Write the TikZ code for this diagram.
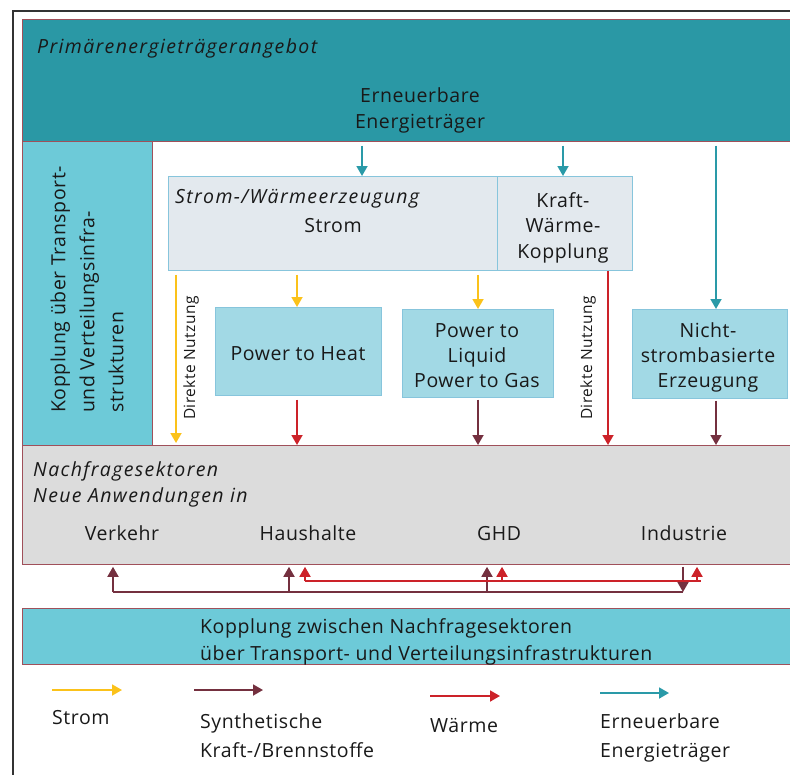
\documentclass[tikz,border=0pt]{standalone}
\usepackage{fontspec}
\setmainfont{Open Sans}[LetterSpace=3]
\usetikzlibrary{arrows.meta}
\definecolor{tealdark}{HTML}{2A98A5}
\definecolor{tealmid}{HTML}{6DCAD8}
\definecolor{powerfill}{HTML}{A2D9E5}
\definecolor{palefill}{HTML}{E3E9EE}
\definecolor{paleborder}{HTML}{87C5DC}
\definecolor{grayfill}{HTML}{DCDCDC}
\definecolor{frameborder}{HTML}{A0505A}
\definecolor{yellowc}{HTML}{FBC21A}
\definecolor{maroonc}{HTML}{74303F}
\definecolor{redc}{HTML}{CC2229}
\definecolor{tealarrow}{HTML}{2A9AA8}
\newcommand{\bigtxt}{\fontsize{19.5}{26}\selectfont}
\newcommand{\smalltxt}{\fontsize{15.5}{18}\selectfont}
\newcommand{\headtxt}{\fontsize{19.5}{27}\selectfont\itshape\addfontfeatures{LetterSpace=7}}
\begin{document}
\begin{tikzpicture}[x=1pt,y=-1pt,
  bigbox/.style={draw=frameborder, line width=0.8pt, anchor=north west, inner sep=0pt},
  innerbox/.style={draw=paleborder, line width=0.8pt, anchor=north west, inner sep=0pt},
  txt/.style={inner sep=0pt, font=\bigtxt, text=black!90},
  arrbase/.style={line width=1.8pt, -{Triangle[length=10pt,width=11pt]}},
  arrY/.style={arrbase, draw=yellowc, fill=yellowc},
  arrM/.style={arrbase, draw=maroonc, fill=maroonc},
  arrR/.style={arrbase, draw=redc, fill=redc},
  arrT/.style={arrbase, draw=tealarrow, fill=tealarrow},
  lineM/.style={line width=1.8pt, draw=maroonc},
  lineR/.style={line width=1.8pt, draw=redc}]
\useasboundingbox (0,0) rectangle (790,774);
% outer frame
\draw[line width=1.2pt, black!80] (13,780) -- (13,11) -- (800,11);
% boxes
\node[bigbox, fill=tealdark, minimum width=773pt, minimum height=122pt] (top) at (22,19) {};
\node[bigbox, fill=tealmid, minimum width=130pt, minimum height=304pt] (left) at (22,141) {};
\node[innerbox, fill=palefill, minimum width=329pt, minimum height=94pt] (strom) at (168,176) {};
\node[innerbox, fill=palefill, minimum width=135pt, minimum height=94pt] (kwk) at (497,176) {};
\node[innerbox, fill=powerfill, minimum width=166pt, minimum height=88pt] (pth) at (215,307) {};
\node[innerbox, fill=powerfill, minimum width=151pt, minimum height=88pt] (ptl) at (402,309) {};
\node[innerbox, fill=powerfill, minimum width=155pt, minimum height=89pt] (nicht) at (632,309) {};
\node[bigbox, fill=grayfill, minimum width=773pt, minimum height=119pt] (nach) at (22,445) {};
\node[bigbox, fill=tealmid, minimum width=773pt, minimum height=56pt] (kopp) at (22,608) {};
% texts (anchor base = baseline of the last line)
\node[txt, anchor=base west] (tprim) at (37,53) {\headtxt Primärenergieträgerangebot};
\node[txt, align=center, anchor=base] (tern) at (420,128) {Erneuerbare\\Energieträger};
\node[txt, rotate=90, align=left, anchor=west, font=\fontsize{19.5}{29}\selectfont] (tleft) at (87,413) {Kopplung über Transport-\\und Verteilungsinfra-\\strukturen};
\node[txt, anchor=base west] (tsw) at (175,203) {\headtxt Strom-/Wärmeerzeugung};
\node[txt, anchor=base] (tstrom) at (333,232) {Strom};
\node[txt, align=center, anchor=base, font=\fontsize{19.5}{25.5}\selectfont] (tkwk) at (563,258) {Kraft-\\Wärme-\\Kopplung};
\node[txt, anchor=base] (tpth) at (298,360) {Power to Heat};
\node[txt, align=center, anchor=base, font=\fontsize{19.5}{25}\selectfont] (tptl) at (477,387) {Power to\\Liquid\\Power to Gas};
\node[txt, align=center, anchor=base, font=\fontsize{19.5}{25}\selectfont] (tnicht) at (708,387) {Nicht-\\strombasierte\\Erzeugung};
\node[txt, anchor=base west, align=left] (tnach) at (33,502) {\headtxt Nachfragesektoren\\\headtxt Neue Anwendungen in};
\node[txt, anchor=base] (tverk) at (122,540) {Verkehr};
\node[txt, anchor=base] (thaus) at (308,540) {Haushalte};
\node[txt, anchor=base] (tghd) at (499,540) {GHD};
\node[txt, anchor=base] (tind) at (684,540) {Industrie};
\node[txt, anchor=base west, align=left, font=\fontsize{19.5}{27}\selectfont] (tkopp) at (200,660) {Kopplung zwischen Nachfragesektoren\\über Transport- und Verteilungsinfrastrukturen};
\node[txt, font=\smalltxt, rotate=90] (tdn1) at (191,358) {Direkte Nutzung};
\node[txt, font=\smalltxt, rotate=90] (tdn2) at (588,358) {Direkte Nutzung};
% x-position helpers
\coordinate (xa) at (362,0);
\coordinate (xb) at (563,0);
\coordinate (xc) at (716,0);
\coordinate (xd) at (176,0);
\coordinate (xe) at (297,0);
\coordinate (xf) at (478,0);
\coordinate (xg) at (608,0);
% teal arrows
\draw[arrT, shorten <=4pt] (xa |- top.south) -- (xa |- strom.north);
\draw[arrT, shorten <=4pt] (xb |- top.south) -- (xb |- kwk.north);
\draw[arrT, shorten <=4pt] (xc |- top.south) -- (xc |- nicht.north);
% yellow arrows
\draw[arrY, shorten <=4pt, shorten >=2pt] (xd |- strom.south) -- (xd |- nach.north);
\draw[arrY, shorten <=4pt] (xe |- strom.south) -- (xe |- pth.north);
\draw[arrY, shorten <=4pt] (xf |- strom.south) -- (xf |- ptl.north);
% red / maroon arrows into Nachfrage
\draw[arrR] (xg |- kwk.south) -- (xg |- nach.north);
\draw[arrR, shorten <=4pt] (xe |- pth.south) -- (xe |- nach.north);
\draw[arrM, shorten <=2pt] (xf |- ptl.south) -- (xf |- nach.north);
\draw[arrM, shorten <=2pt] (xc |- nicht.south) -- (xc |- nach.north);
% bottom exchange between sectors
\coordinate (ym) at (0,592);
\coordinate (yr) at (0,581);
\coordinate (m1) at (113,0);
\coordinate (m2) at (289,0);
\coordinate (m3) at (487,0);
\coordinate (m4) at (683,0);
\coordinate (r1) at (305,0);
\coordinate (r2) at (502,0);
\coordinate (r3) at (697,0);
\coordinate (rend) at (701,0);
\draw[arrM, shorten <=2pt] (m4 |- nach.south) -- (m4 |- ym);
\draw[lineM] (m4 |- ym) -- (m1 |- ym);
\draw[arrM, shorten >=2pt] (m1 |- ym) -- (m1 |- nach.south);
\draw[arrM, shorten >=2pt] (m2 |- ym) -- (m2 |- nach.south);
\draw[arrM, shorten >=2pt] (m3 |- ym) -- (m3 |- nach.south);
\draw[lineR] (r1 |- yr) -- (rend |- yr);
\draw[arrR, shorten >=2pt] (r1 |- yr) -- (r1 |- nach.south);
\draw[arrR, shorten >=2pt] (r2 |- yr) -- (r2 |- nach.south);
\draw[arrR, shorten >=2pt] (r3 |- yr) -- (r3 |- nach.south);
% legend
\coordinate (l1a) at (52,690);  \coordinate (l1b) at (122,690);
\coordinate (l2a) at (194,690); \coordinate (l2b) at (263,690);
\coordinate (l3a) at (430,696); \coordinate (l3b) at (500,696);
\coordinate (l4a) at (600,693); \coordinate (l4b) at (669,693);
\draw[arrY] (l1a) -- (l1b);
\draw[arrM] (l2a) -- (l2b);
\draw[arrR] (l3a) -- (l3b);
\draw[arrT] (l4a) -- (l4b);
\node[txt, anchor=base west] (lstrom) at (52,724) {Strom};
\node[txt, anchor=base west, align=left, font=\fontsize{19.5}{29}\selectfont] (lsyn) at (200,757) {Synthetische\\Kraft-/Brennstoffe};
\node[txt, anchor=base west] (lwaerme) at (430,732) {Wärme};
\node[txt, anchor=base west, align=left, font=\fontsize{19.5}{29}\selectfont] (lern) at (600,757) {Erneuerbare\\Energieträger};
\end{tikzpicture}
\end{document}
